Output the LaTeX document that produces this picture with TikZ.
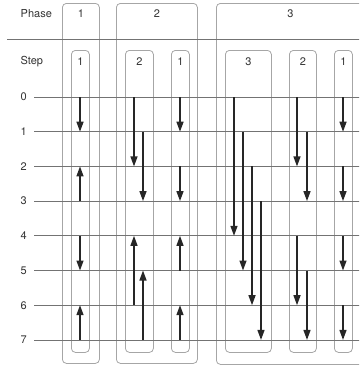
\documentclass[tikz,border=0pt]{standalone}
\usepackage{fontspec}
\setmainfont{TeX Gyre Heros}
\usetikzlibrary{arrows.meta,positioning}
\tikzset{
  phasebox/.style={
    draw=black!35,
    rounded corners=4pt,
    line width=0.8pt,
    anchor=north west,
    inner sep=0pt
  },
  lbl/.style={
    font=\fontsize{11}{13}\selectfont,
    text=black!80,
    inner sep=0pt
  },
  stepline/.style={draw=black!55, line width=0.7pt},
  steparrow/.style={-{Triangle[length=10pt,width=7pt]}, line width=1.4pt, draw=black!85}
}

\begin{document}
\begin{tikzpicture}[x=1pt,y=-1pt]
  \useasboundingbox (0,0) rectangle (359,367);
  \clip (0,0) rectangle (359,367);
  % phase boxes
  \node[phasebox,minimum width=37pt,minimum height=360pt] (ph1) at (62,3) {};
  \node[phasebox,minimum width=81pt,minimum height=360pt] (ph2) at (116,3) {};
  \node[phasebox,minimum width=148pt,minimum height=361pt] (ph3) at (216,3) {};
  % step boxes
  \node[phasebox,minimum width=18pt,minimum height=302pt] (st11) at (71,50) {};
  \node[phasebox,minimum width=28pt,minimum height=302pt] (st22) at (125,50) {};
  \node[phasebox,minimum width=18pt,minimum height=302pt] (st21) at (171,50) {};
  \node[phasebox,minimum width=46pt,minimum height=302pt] (st33) at (225,50) {};
  \node[phasebox,minimum width=27pt,minimum height=302pt] (st32) at (289,50) {};
  \node[phasebox,minimum width=18pt,minimum height=302pt] (st31) at (334,50) {};
  % labels
  \node[lbl,anchor=west] (phase) at (20.5,14) {Phase};
  \node[lbl,anchor=west] (step) at (20.5,62) {Step};
  \foreach \b/\t in {ph1/1,ph2/2,ph3/3}
    \node[lbl] at (\b.north |- phase) {\t};
  \foreach \b/\t in {st11/1,st22/2,st21/1,st33/3,st32/2,st31/1}
    \node[lbl] at (\b.north |- step) {\t};
  \coordinate (sepl) at (7,39);
  \coordinate (sepr) at (360,39);
  \draw[stepline] (sepl) -- (sepr);
  % step rows
  \foreach \i in {0,...,7} {
    \node[lbl,anchor=west] (n\i) at (20.5,97+34.7*\i) {\i};
    \coordinate (r\i) at (34,97+34.7*\i);
    \coordinate (re\i) at (360,97+34.7*\i);
    \draw[stepline] (r\i) -- (re\i);
  }
  % arrow columns
  \foreach \c/\x in {a1/80,b1/134,b2/143,c1/180,d1/234,d2/243,d3/252,d4/261,e1/297,e2/307,f1/343}
    \coordinate (\c) at (\x,0);
  \foreach \c/\f/\t in {a1/0/1,a1/3/2,a1/4/5,a1/7/6,
      b1/0/2,b1/6/4,b2/1/3,b2/7/5,
      c1/0/1,c1/2/3,c1/5/4,c1/7/6,
      d1/0/4,d2/1/5,d3/2/6,d4/3/7,
      e1/0/2,e1/4/6,e2/1/3,e2/5/7,
      f1/0/1,f1/2/3,f1/4/5,f1/6/7}
    \draw[steparrow] (\c |- r\f) -- (\c |- r\t);
\end{tikzpicture}
\end{document}
